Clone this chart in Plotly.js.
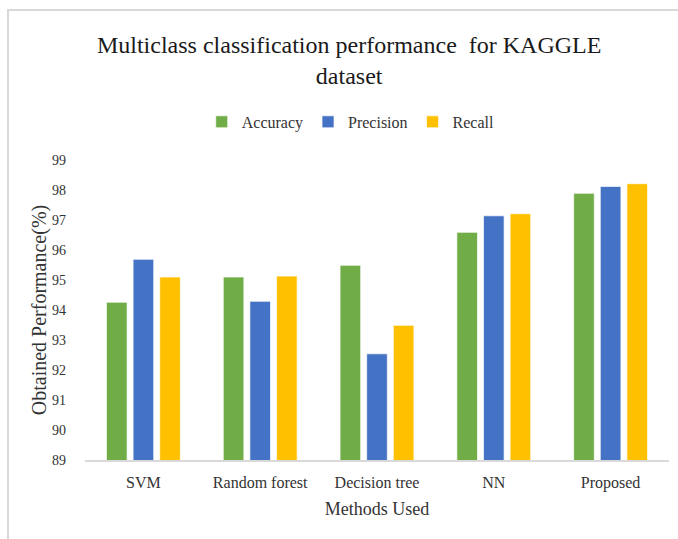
<!DOCTYPE html>
<html>
<head>
<meta charset="utf-8">
<script src="https://cdn.plot.ly/plotly-3.0.1.min.js"></script>
<style>
  html, body { margin: 0; padding: 0; background: #ffffff; overflow: hidden; }
  #wrap { position: relative; width: 678px; height: 539px; }
  #frame { position: absolute; left: 7px; top: 9px; width: 700px; height: 600px;
           border-top: 2px solid #d9d9d9; border-left: 2px solid #d9d9d9; pointer-events: none; }
  #chart { position: absolute; left: 0; top: 0; width: 678px; height: 539px; }
</style>
</head>
<body>
<div id="wrap">
  <div id="frame"></div>
  <div id="chart"></div>
</div>
<script>
const categories = ["SVM", "Random forest", "Decision tree", "NN", "Proposed"];
const accuracy  = [94.26, 95.10, 95.49, 96.59, 97.89];
const precision = [95.69, 94.29, 92.54, 97.14, 98.12];
const recall    = [95.10, 95.13, 93.49, 97.21, 98.21];
const yTicks = [89, 90, 91, 92, 93, 94, 95, 96, 97, 98, 99];

const serif = "Liberation Serif, Times New Roman, serif";
const outline = { color: "rgba(255,255,255,0.7)", width: 1 };

const traces = [
  { type: "bar", name: "Accuracy",  x: categories, y: accuracy,  marker: { color: "#70AD47", line: outline } },
  { type: "bar", name: "Precision", x: categories, y: precision, marker: { color: "#4472C4", line: outline } },
  { type: "bar", name: "Recall",    x: categories, y: recall,    marker: { color: "#FFC000", line: outline } }
];

const layout = {
  width: 678, height: 539,
  paper_bgcolor: "rgba(0,0,0,0)",
  plot_bgcolor: "rgba(0,0,0,0)",
  margin: { l: 85, r: 9, t: 160, b: 79 },
  barmode: "group",
  bargap: 0.316,
  bargroupgap: 0.225,
  showlegend: true,
  title: {
    text: "Multiclass classification performance  for KAGGLE<br>dataset",
    font: { family: serif, size: 24, color: "#1a1a1a" },
    x: 0.515, xanchor: "center", xref: "container",
    y: 1 - 53 / 539, yanchor: "middle", yref: "container"
  },
  legend: {
    orientation: "h",
    x: 0.455, xanchor: "center",
    y: 1.127, yanchor: "middle",
    font: { family: serif, size: 16, color: "#333333" },
    itemwidth: 30,
    traceorder: "normal"
  },
  xaxis: {
    type: "category",
    showline: true, linecolor: "#d9d9d9", linewidth: 1.5,
    ticks: "", showgrid: false, zeroline: false,
    ticklabelstandoff: 7,
    tickfont: { family: serif, size: 16, color: "#333333" },
    title: { text: "Methods Used", font: { family: serif, size: 18, color: "#333333" }, standoff: 11 }
  },
  yaxis: {
    range: [89, 99],
    tickvals: yTicks,
    ticktext: yTicks.map(String),
    showline: false, showgrid: false, zeroline: false, ticks: "",
    ticklabelstandoff: 18,
    tickfont: { family: serif, size: 14, color: "#333333" },
    title: { text: "Obtained Performance(%)", font: { family: serif, size: 20, color: "#333333" }, standoff: 0 }
  }
};

Plotly.newPlot("chart", traces, layout, { displayModeBar: false, staticPlot: true });
</script>
</body>
</html>
